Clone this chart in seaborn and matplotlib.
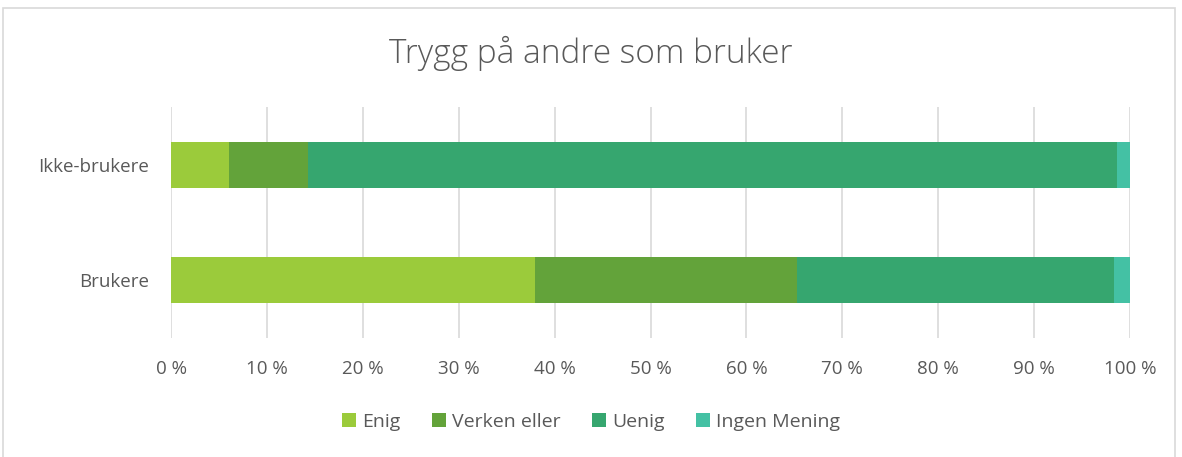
import pandas as pd
import seaborn as sns
import matplotlib.pyplot as plt
from matplotlib.patches import Rectangle
from matplotlib.ticker import FuncFormatter

# Andeler (%) lest av figuren
groups = ["Ikke-brukere", "Brukere"]
series = ["Enig", "Verken eller", "Uenig", "Ingen Mening"]
enig = [6.1, 38.0]
verken = [8.2, 27.3]
uenig = [84.3, 33.0]
ingen = [1.4, 1.7]
colors = ["#9BCB3B", "#63A33A", "#36A66F", "#44C1A4"]

sns.set_style("white")
plt.rcParams['font.family'] = ['Open Sans', 'DejaVu Sans']

df = pd.DataFrame({"group": groups, "Enig": enig, "Verken eller": verken,
                   "Uenig": uenig, "Ingen Mening": ingen})
cum = df[series].cumsum(axis=1)
cum["group"] = df["group"]

fig = plt.figure(figsize=(11.82, 4.57), dpi=100)
ax = fig.add_axes([171 / 1182, 1 - 338 / 457, (1130 - 171) / 1182, (338 - 107) / 457])

# tegn kumulative summer bakfra slik at hvert segment ligger oppå
for name, col in reversed(list(zip(series, colors))):
    sns.barplot(data=cum, x=name, y="group", order=groups, color=col,
                width=0.4, orient="h", ax=ax, label=name, saturation=1,
                linewidth=0, zorder=2)

ax.set_xlim(0, 100)
ax.set_ylim(1.5, -0.5)
ax.set_xticks(range(0, 101, 10))
ax.xaxis.set_major_formatter(FuncFormatter(lambda v, p: "%d %%" % v))
ax.grid(axis="x", color="#D9D9D9", linewidth=1.2, zorder=0)
ax.set_axisbelow(True)
for s in ax.spines.values():
    s.set_visible(False)
ax.set(xlabel=None, ylabel=None)
ax.tick_params(axis="both", length=0, labelsize=13.5, labelcolor="#595959")
ax.tick_params(axis="x", pad=16)
ax.tick_params(axis="y", pad=16)

fig.text(0.5, 1 - 53 / 457, "Trygg på andre som bruker", ha="center", va="center",
         fontsize=24, color="#595959", fontweight="light")

handles, labels = ax.get_legend_handles_labels()
order = [labels.index(s) for s in series]
ax.legend([handles[i] for i in order], series, loc="center",
          bbox_to_anchor=(0.5, 1 - 422 / 457), bbox_transform=fig.transFigure,
          ncol=4, frameon=False, fontsize=14, handlelength=0.75, handleheight=0.75,
          handletextpad=0.3, columnspacing=1.6, labelcolor="#595959")

fig.patches.append(Rectangle((3 / 1182, -0.01), 1172 / 1182, 1 - 8 / 457 + 0.01,
                             transform=fig.transFigure, fill=False,
                             edgecolor="#D9D9D9", linewidth=1.2))

plt.savefig("out.png", dpi=100)
